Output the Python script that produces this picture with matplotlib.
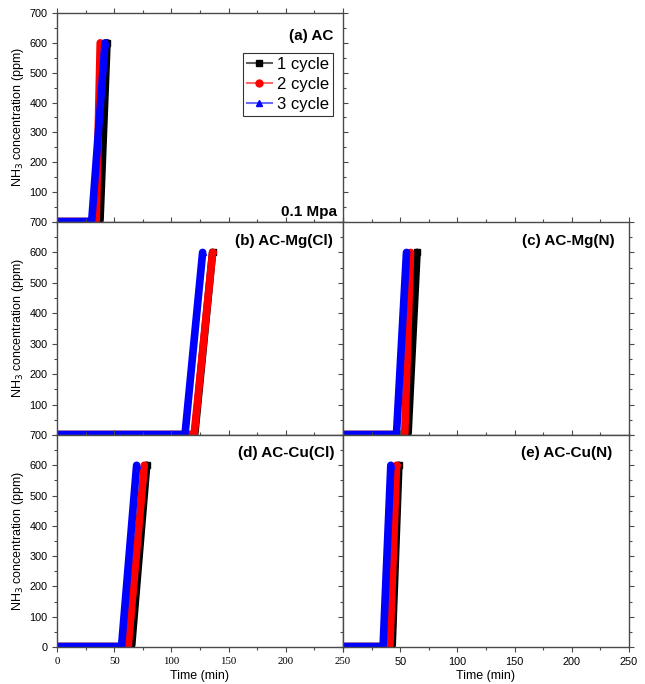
import matplotlib
matplotlib.use("Agg")
import matplotlib.pyplot as plt
from matplotlib.lines import Line2D
from matplotlib.ticker import MultipleLocator, FixedLocator, FixedFormatter

plt.rcParams['font.family'] = ['Liberation Sans', 'DejaVu Sans']

# --- data (min / ppm) ---
panels = ['a', 'b', 'c', 'd', 'e']
titles = ['(a) AC', '(b) AC-Mg(Cl)', '(c) AC-Mg(N)', '(d) AC-Cu(Cl)', '(e) AC-Cu(N)']
cycles = ['1 cycle', '2 cycle', '3 cycle']

# breakthrough start / end time for 1, 2, 3 cycle
t_start = {
    'a': [37.6, 34.3, 30.4],
    'b': [120.5, 120.0, 112.0],
    'c': [56.9, 54.0, 46.8],
    'd': [65.3, 62.3, 56.5],
    'e': [43.0, 41.0, 35.1],
}
t_end = {
    'a': [43.7, 37.8, 42.0],
    'b': [136.0, 136.0, 127.3],
    'c': [64.7, 59.0, 55.5],
    'd': [78.4, 76.3, 69.6],
    'e': [48.8, 46.8, 41.8],
}
c_base = 6
c_top = 600

colors = ['black', 'red', 'blue']
line_light = ['#606060', '#ff6a6a', '#6a6aff']
markers = ['s', 'o', '^']

W, H = 645, 684
fig = plt.figure(figsize=(W / 100, H / 100), dpi=100)

xl, xm, xr = 57 / W, 343 / W, 629 / W
y0, y1, y2, y3 = 1 - 13 / H, 1 - 222 / H, 1 - 435 / H, 1 - 647 / H

boxes = {
    'a': [xl, y1, xm - xl, y0 - y1],
    'b': [xl, y2, xm - xl, y1 - y2],
    'c': [xm, y2, xr - xm, y1 - y2],
    'd': [xl, y3, xm - xl, y2 - y3],
    'e': [xm, y3, xr - xm, y2 - y3],
}
title_pos = {
    'a': (0.965, 0.89), 'b': (0.965, 0.91), 'c': (0.948, 0.91),
    'd': (0.97, 0.915), 'e': (0.94, 0.915),
}

spine_col = '#4a4a4a'
axes = {}
for p, title in zip(panels, titles):
    ax = fig.add_axes(boxes[p])
    axes[p] = ax
    for k in range(3):
        xs = [0, t_start[p][k], t_end[p][k]]
        ys = [c_base, c_base, c_top]
        ax.plot(xs[:2], ys[:2], color=colors[k], lw=3.2, solid_capstyle='butt')
        ax.plot(xs[1:], ys[1:], color=colors[k], lw=5.5, solid_capstyle='round',
                marker=markers[k], markevery=[1], ms=4)

    ax.set_xlim(0, 250)
    ax.set_ylim(0, 700)
    ax.xaxis.set_major_locator(MultipleLocator(50))
    ax.xaxis.set_minor_locator(MultipleLocator(25))
    ax.yaxis.set_major_locator(MultipleLocator(100))
    ax.yaxis.set_minor_locator(MultipleLocator(50))
    ax.tick_params(which='both', direction='out', top=True, right=True,
                   colors=spine_col, labelcolor='black', labelsize=7.8, width=0.8)
    ax.tick_params(which='major', length=3.5)
    ax.tick_params(which='minor', length=2)
    for s in ax.spines.values():
        s.set_color(spine_col)
        s.set_linewidth(1.0)

    ax.text(*title_pos[p], title, transform=ax.transAxes, ha='right', va='center',
            fontsize=11, fontweight='bold')

    # tick labels: left column shows y values, bottom row shows x values
    if p in ('a', 'b', 'd'):
        ylabels = ['' if (v == 0 and p != 'd') else str(v) for v in range(0, 701, 100)]
        ax.yaxis.set_major_locator(FixedLocator(list(range(0, 701, 100))))
        ax.yaxis.set_major_formatter(FixedFormatter(ylabels))
        ax.set_ylabel('NH$_3$ concentration (ppm)', fontsize=9, labelpad=2)
    else:
        ax.set_yticklabels([])
    if p in ('d', 'e'):
        xlabels = ['' if (v == 0 and p == 'e') else str(v) for v in range(0, 251, 50)]
        ax.xaxis.set_major_locator(FixedLocator(list(range(0, 251, 50))))
        ax.xaxis.set_major_formatter(FixedFormatter(xlabels))
        ax.set_xlabel('Time (min)', fontsize=9)
        ax.xaxis.set_label_coords(0.5, -0.11)
        if p == 'd':
            for lab in ax.get_xticklabels():
                lab.set_family('Liberation Serif')
    else:
        ax.set_xticklabels([])

axes['a'].text(0.98, 0.05, '0.1 Mpa', transform=axes['a'].transAxes,
               ha='right', va='center', fontsize=11, fontweight='bold')

handles = [Line2D([], [], color=line_light[k], lw=1.5, marker=markers[k],
                  markerfacecolor=colors[k], markeredgecolor=colors[k], ms=5)
           for k in range(3)]
leg = axes['a'].legend(handles, cycles, loc='upper right', bbox_to_anchor=(0.965, 0.81),
                       fontsize=12, frameon=True, fancybox=False, edgecolor='black',
                       handlelength=1.5, handletextpad=0.3, borderpad=0.25,
                       labelspacing=0.3, borderaxespad=0)
leg.get_frame().set_linewidth(0.8)

fig.savefig('out.png', dpi=100)
